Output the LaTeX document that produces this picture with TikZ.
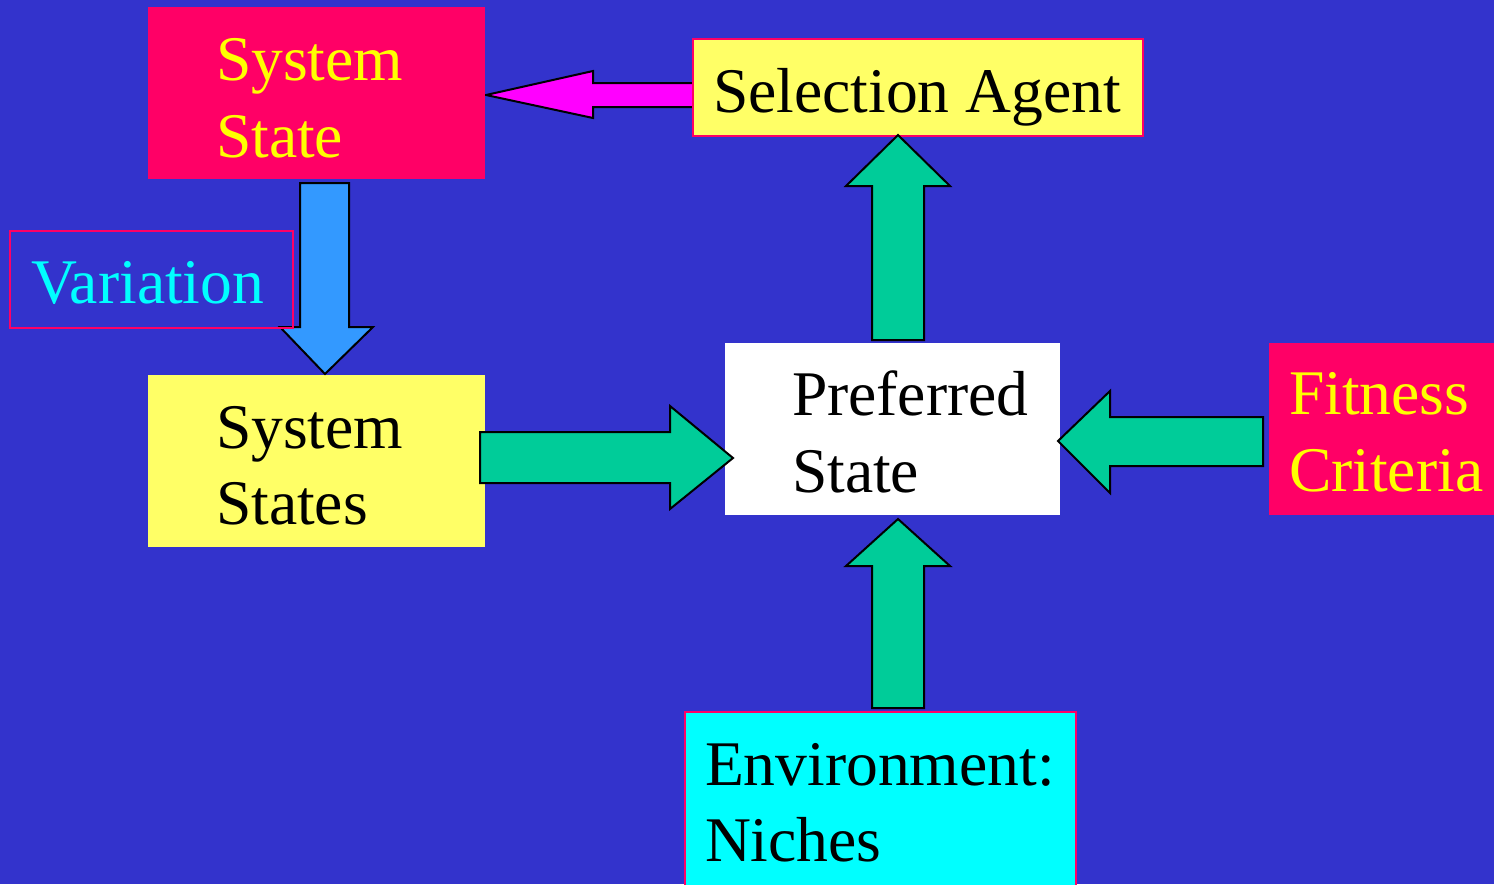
\documentclass[tikz,border=0pt]{standalone}
\usepackage{fontspec}
\setmainfont{Liberation Serif}
\definecolor{bgblue}{RGB}{51,51,204}
\definecolor{sred}{RGB}{255,0,102}
\definecolor{syellow}{RGB}{255,255,102}
\definecolor{tyellow}{RGB}{255,255,0}
\definecolor{sgreen}{RGB}{0,204,153}
\definecolor{sblue}{RGB}{51,153,255}
\definecolor{smag}{RGB}{255,0,255}
\definecolor{scyan}{RGB}{0,255,255}
\begin{document}
\begin{tikzpicture}[x=1pt,y=-1pt,
  boxnode/.style={rectangle, inner sep=0pt, outer sep=0pt},
  lbl/.style={anchor=base west, inner sep=0pt, outer sep=0pt, font=\fontsize{63.6}{76}\selectfont},
  blockarrow/.style={draw=black, line width=2pt, line join=miter}]
\useasboundingbox (0,0) rectangle (1494,884);
\fill[bgblue] (0,0) rectangle (1494,884);
% magenta arrow (under the Selection Agent box)
\fill[smag] (700,83) -- (593,83) -- (593,71) -- (486,95) -- (593,118) -- (593,107) -- (700,107) -- cycle;
\draw[blockarrow] (693,83) -- (593,83) -- (593,71) -- (486,95) -- (593,118) -- (593,107) -- (693,107);
% boxes
\node[boxnode, fill=sred, minimum width=337pt, minimum height=172pt] (sysstate) at (316.5,93) {};
\node[boxnode, fill=syellow, draw=sred, line width=2pt, minimum width=450pt, minimum height=97pt] (selagent) at (918,87.5) {};
\node[boxnode, fill=syellow, minimum width=337pt, minimum height=172pt] (sysstates) at (316.5,461) {};
\node[boxnode, fill=white, minimum width=335pt, minimum height=172pt] (pref) at (892.5,429) {};
\node[boxnode, fill=sred, minimum width=240pt, minimum height=172pt] (fit) at (1389,429) {};
\node[boxnode, fill=scyan, draw=sred, line width=2pt, minimum width=391pt, minimum height=190pt] (env) at (880.5,807) {};
% blue down arrow
\draw[blockarrow, fill=sblue] (300,183) -- (349,183) -- (349,327) -- (373,327) -- (325,374) -- (280,327) -- (300,327) -- cycle;
% variation box
\node[boxnode, draw=sred, line width=2pt, minimum width=283pt, minimum height=97pt] (var) at (151.5,279.5) {};
% green arrows
\draw[blockarrow, fill=sgreen] (480,432) -- (670,432) -- (670,406) -- (733,458) -- (670,509) -- (670,483) -- (480,483) -- cycle;
\draw[blockarrow, fill=sgreen] (1263,417) -- (1110,417) -- (1110,391) -- (1058,441) -- (1110,493) -- (1110,466) -- (1263,466) -- cycle;
\draw[blockarrow, fill=sgreen] (872,340) -- (872,186) -- (846,186) -- (898,135) -- (950,186) -- (924,186) -- (924,340) -- cycle;
\draw[blockarrow, fill=sgreen] (872,708) -- (872,566) -- (846,566) -- (898,519) -- (950,566) -- (924,566) -- (924,708) -- cycle;
% texts
\node[lbl, text=tyellow] (t1) at (216,80) {System};
\node[lbl, text=tyellow] (t2) at (216,157) {State};
\node[lbl, text=black] (t3) at (713,112) {Selection Agent};
\node[lbl, text=scyan] (t4) at (31,303) {Variation};
\node[lbl, text=black] (t5) at (216,448) {System};
\node[lbl, text=black] (t6) at (216,524) {States};
\node[lbl, text=black] (t7) at (792,415) {Preferred};
\node[lbl, text=black] (t8) at (792,492) {State};
\node[lbl, text=tyellow] (t9) at (1289,414) {Fitness};
\node[lbl, text=tyellow] (t10) at (1289,491) {Criteria};
\node[lbl, text=black] (t11) at (705,785) {Environment:};
\node[lbl, text=black] (t12) at (705,861) {Niches};
\end{tikzpicture}
\end{document}
